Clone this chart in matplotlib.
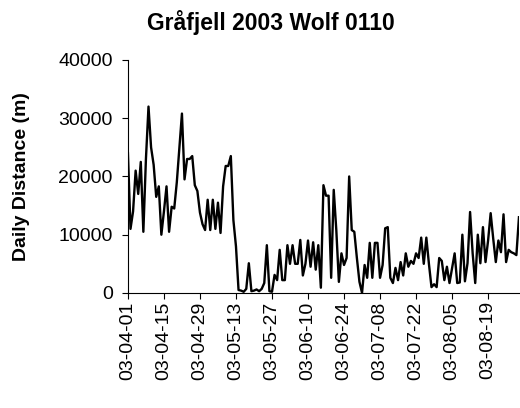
import numpy as np
import pandas as pd
import matplotlib
matplotlib.use('Agg')
import matplotlib.pyplot as plt
import matplotlib.dates as mdates

# Daily distance (m) for wolf 0110, one value per day from 2003-04-01
start_date = '2003-04-01'
daily_distance = [
    24000, 11000, 14000, 21000, 17000, 22500, 10500, 23000, 32000, 25000,
    22000, 16500, 18300, 10000, 14000, 18300, 10500, 14800, 14500, 19000,
    25000, 30800, 19500, 23000, 23000, 23500, 18500, 17500, 13800, 11800,
    10800, 16000, 10800, 16000, 11000, 15500, 10300, 18300, 21800, 21800,
    23500, 12500, 8000, 500, 400, 200, 700, 5100, 300, 400,
    600, 300, 700, 1700, 8200, 300, 200, 3100, 2200, 7400,
    2200, 2200, 8200, 5000, 8200, 5000, 5000, 9100, 3000, 5000,
    9000, 4500, 8700, 4000, 8200, 900, 18500, 16700, 16700, 2600,
    17700, 10800, 1900, 6800, 4800, 6000, 20000, 10800, 10500, 6000,
    1900, 0, 4800, 2600, 8600, 2600, 8600, 8600, 2600, 4800,
    11100, 11300, 2600, 1700, 4300, 2200, 5300, 3000, 6800, 4500,
    5500, 5000, 6800, 6000, 9500, 5000, 9500, 5000, 1000, 1500,
    1000, 6000, 5500, 2200, 4500, 1700, 4300, 6800, 1700, 1800,
    10000, 2000, 5100, 13900, 6800, 1700, 10000, 5100, 11300, 5300,
    9000, 13700, 9300, 5300, 9000, 7000, 13500, 5300, 7400, 7000,
    6800, 6500, 13000,
]
y_ticks = [0, 10000, 20000, 30000, 40000]
title = 'Gråfjell 2003 Wolf 0110'
y_label = 'Daily Distance (m)'

dates = pd.date_range(start_date, periods=len(daily_distance), freq='D')
x_ticks = pd.date_range(dates[0], dates[-1], freq='14D')

plt.rcParams['font.family'] = ['Liberation Sans', 'DejaVu Sans']

fig = plt.figure(figsize=(5.2, 4.08), dpi=100)
ax = fig.add_axes([0.246, 0.282, 0.752, 0.571])

ax.plot(dates, daily_distance, color='black', linewidth=1.7)

ax.set_xlim(dates[0], dates[-1])
ax.set_ylim(0, 40000)
ax.set_yticks(y_ticks)
ax.set_xticks(x_ticks)
ax.xaxis.set_major_formatter(mdates.DateFormatter('%y-%m-%d'))

for side in ['top', 'right']:
    ax.spines[side].set_visible(False)
for side in ['left', 'bottom']:
    ax.spines[side].set_color('black')
    ax.spines[side].set_linewidth(0.8)

ax.tick_params(axis='both', direction='out', length=4, width=0.8,
               labelsize=14, colors='black')
ax.tick_params(axis='y', pad=7)
ax.tick_params(axis='x', pad=2, labelrotation=90)

# chart title is centred on the whole figure, like the spreadsheet chart
fig.suptitle(title, x=0.52, y=0.975, fontsize=16.5, fontweight='bold')
ax.set_ylabel(y_label, fontsize=14, fontweight='bold', labelpad=20)

fig.savefig('out.png', dpi=100)
